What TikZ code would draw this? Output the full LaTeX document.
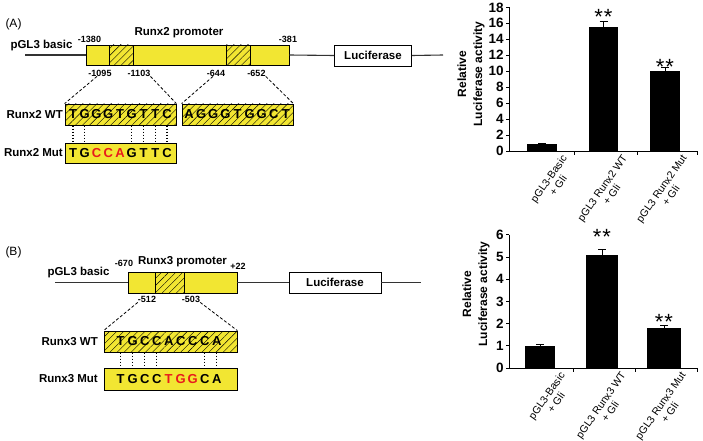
\documentclass[tikz,border=0pt]{standalone}
\usepackage{fontspec}
\setmainfont{Liberation Sans}
\usetikzlibrary{patterns.meta}
\definecolor{boxyellow}{RGB}{242,230,50}
\definecolor{mutred}{RGB}{232,28,28}
\tikzset{
  lab/.style={font=\fontsize{11.5}{13}\selectfont\bfseries, inner sep=0pt},
  posnum/.style={font=\fontsize{9}{10}\selectfont\bfseries, inner sep=0pt},
  letter/.style={font=\fontsize{13}{14}\selectfont\bfseries, inner sep=0pt},
  ybox/.style={draw, fill=boxyellow, line width=0.8pt, inner sep=0pt},
  hatch/.style={postaction={pattern={Lines[angle=45,distance=5pt,line width=0.4pt]}}},
  wbox/.style={draw, fill=white, line width=0.9pt, inner sep=0pt},
  dna/.style={line width=1.1pt, draw=black!80},
  zoomline/.style={dash pattern=on 3pt off 2pt, line width=0.8pt},
  pair/.style={dotted, line width=1.1pt},
  axisline/.style={line width=0.9pt},
  ticknum/.style={font=\fontsize{13.5}{14}\selectfont\bfseries, inner sep=2pt},
  ylab/.style={font=\fontsize{12}{16}\selectfont\bfseries, align=center, rotate=90, inner sep=0pt},
  xlab/.style={font=\fontsize{10.5}{11.5}\selectfont, align=center, rotate=55, anchor=north east, inner sep=0pt},
  stars/.style={font=\fontsize{22}{22}\selectfont, inner sep=0pt, anchor=base},
}
\begin{document}
\begin{tikzpicture}[x=1pt, y=-1pt]
\useasboundingbox (0,0) rectangle (703,441);

% (A) Runx2 construct
\node[font=\fontsize{12}{14}\selectfont, inner sep=0pt] (tagA) at (13.5,24) {(A)};
\node[lab] (vecA) at (41.5,46) {pGL3 basic};
\coordinate (startA) at (25,55);
\coordinate (endA) at (443,55);
\node[ybox, minimum width=203pt, minimum height=20pt] (promA) at (187.5,55) {};
\node[ybox, hatch, minimum width=24pt, minimum height=20pt] (hatchA1) at (121,55) {};
\node[ybox, hatch, minimum width=24pt, minimum height=20pt] (hatchA2) at (238,55) {};
\node[wbox, lab, minimum width=77pt, minimum height=21pt] (lucA) at (373,55.5) {Luciferase};
\draw[dna] (startA) -- (promA.west);
\draw[dna] (promA.east) -- (lucA.west);
\draw[dna] (lucA.east) -- (endA);
\node[lab] (nameA) at (179,33) {Runx2 promoter};
\node[posnum] (l1380) at (89.5,39) {-1380};
\node[posnum] (l381) at (288,39) {-381};
\node[posnum] (l1095) at (100,73) {-1095};
\node[posnum] (l1103) at (139,73) {-1103};
\node[posnum] (l644) at (216,73) {-644};
\node[posnum] (l652) at (256.5,73) {-652};

\node[ybox, hatch, minimum width=111pt, minimum height=21pt] (boxWtA) at (120.5,114.5) {};
\node[ybox, hatch, minimum width=111pt, minimum height=21pt] (boxSiteA) at (237.5,114.5) {};
\node[ybox, minimum width=111pt, minimum height=20pt] (boxMutA) at (120.5,153) {};
\node[lab, anchor=east] (rowWtA) at (63,114.5) {Runx2 WT};
\node[lab, anchor=east] (rowMutA) at (63,153) {Runx2 Mut};
\foreach \b [count=\i] in {T,G,G,G,T,G,T,T,C}
  \node[letter] (wtA\i) at ({61.25+11.75*\i},114.5) {\b};
\foreach \b [count=\i] in {A,G,G,G,T,G,G,C,T}
  \node[letter] (siteA\i) at ({177+12.1*\i},114.5) {\b};
\foreach \b/\c [count=\i] in {T/black,G/black,C/mutred,C/mutred,A/mutred,G/black,T/black,T/black,C/black}
  \node[letter, text=\c] (mutA\i) at ({61.25+11.75*\i},153) {\b};
\foreach \i in {1,2,6,7,8,9}
  \draw[pair] (wtA\i |- boxWtA.south) -- (mutA\i |- boxMutA.north);
\draw[zoomline] ([xshift=-3pt]l1095.south) -- (boxWtA.north west);
\draw[zoomline] (l1103.south east) -- (boxWtA.north east);
\draw[zoomline] ([xshift=-3pt]l644.south) -- (boxSiteA.north west);
\draw[zoomline] (l652.south east) -- (boxSiteA.north east);

% (B) Runx3 construct
\node[font=\fontsize{12}{14}\selectfont, inner sep=0pt] (tagB) at (13.5,252) {(B)};
\node[lab] (vecB) at (78.5,273) {pGL3 basic};
\coordinate (startB) at (55,282.5);
\coordinate (endB) at (421,282.5);
\node[ybox, minimum width=109pt, minimum height=21pt] (promB) at (182.5,282.5) {};
\node[ybox, hatch, minimum width=29pt, minimum height=21pt] (hatchB) at (169.5,282.5) {};
\node[wbox, lab, minimum width=92pt, minimum height=21pt] (lucB) at (335,282.5) {Luciferase};
\draw[dna] (startB) -- (promB.west);
\draw[dna] (promB.east) -- (lucB.west);
\draw[dna] (lucB.east) -- (endB);
\node[lab] (nameB) at (182.5,262) {Runx3 promoter};
\node[posnum] (l670) at (124,263) {-670};
\node[posnum] (l22) at (238,266) {+22};
\node[posnum] (l512) at (147,299) {-512};
\node[posnum] (l503) at (191,299) {-503};

\node[ybox, hatch, minimum width=133pt, minimum height=21pt] (boxWtB) at (170.5,341.5) {};
\node[ybox, minimum width=133pt, minimum height=22pt] (boxMutB) at (170.5,379) {};
\node[lab, anchor=east] (rowWtB) at (98,342) {Runx3 WT};
\node[lab, anchor=east] (rowMutB) at (98,379) {Runx3 Mut};
\foreach \b [count=\i] in {T,G,C,C,A,C,C,C,A}
  \node[letter] (wtB\i) at ({108.7+12*\i},341.5) {\b};
\foreach \b/\c [count=\i] in {T/black,G/black,C/black,C/black,T/mutred,G/mutred,G/mutred,C/black,A/black}
  \node[letter, text=\c] (mutB\i) at ({108.7+12*\i},379) {\b};
\foreach \i in {1,2,3,4,8,9}
  \draw[pair] (wtB\i |- boxWtB.south) -- (mutB\i |- boxMutB.north);
\draw[zoomline] (l512.south west) -- (boxWtB.north west);
\draw[zoomline] (l503.south east) -- (boxWtB.north east);

% chart A
\node[ylab] (yA) at (471,74) {Relative\\Luciferase activity};
\begin{scope}[shift={(509,151)}, y=7.98pt]
\fill (18,0) rectangle (48,0.85);
\fill (80,0) rectangle (109,15.5);
\fill (141,0) rectangle (171,10);
\draw[line width=0.7pt] (33,0.85) -- (33,0.95) ++(-4pt,0pt) -- ++(8pt,0pt);
\draw[line width=0.7pt] (94.5,15.5) -- (94.5,16.3) ++(-4pt,0pt) -- ++(8pt,0pt);
\draw[line width=0.7pt] (156,10) -- (156,10.5) ++(-4pt,0pt) -- ++(8pt,0pt);
\draw[axisline] (0,18) -- (0,0) -- (188,0);
\foreach \v in {0,2,...,18}
  \draw[axisline] (0,\v) -- ++(-3pt,0pt) node[ticknum, left] {\v};
\foreach \t in {65,128,188}
  \draw[axisline] (\t,0) -- ++(0pt,-4pt);
\node[stars] (sA2) at (94.5,15.85) {*\kern1pt*};
\node[stars] (sA3) at (156,9.59) {*\kern1pt*};
\node[xlab, yshift=-5pt] (xA1) at (48,0) {pGL3-Basic\\+ Gli};
\node[xlab, yshift=-5pt] (xA2) at (108.5,0) {pGL3 Runx2 WT\\+ Gli};
\node[xlab, yshift=-5pt] (xA3) at (168,0) {pGL3 Runx2 Mut\\+ Gli};
\end{scope}

% chart B
\node[ylab] (yB) at (476,294) {Relative\\Luciferase activity};
\begin{scope}[shift={(509,368)}, y=22.2pt]
\fill (16,0) rectangle (46,1.0);
\fill (77,0) rectangle (109,5.1);
\fill (138,0) rectangle (172,1.82);
\draw[line width=0.7pt] (31,1.0) -- (31,1.07) ++(-4pt,0pt) -- ++(8pt,0pt);
\draw[line width=0.7pt] (93,5.1) -- (93,5.35) ++(-4pt,0pt) -- ++(8pt,0pt);
\draw[line width=0.7pt] (155,1.82) -- (155,1.93) ++(-4pt,0pt) -- ++(8pt,0pt);
\draw[axisline] (0,6) -- (0,0) -- (188,0);
\foreach \v in {0,...,6}
  \draw[axisline] (0,\v) -- ++(-3pt,0pt) node[ticknum, left] {\v};
\foreach \t in {64,126,188}
  \draw[axisline] (\t,0) -- ++(0pt,-4pt);
\node[stars] (sB2) at (93,5.56) {*\kern1pt*};
\node[stars] (sB3) at (155,1.73) {*\kern1pt*};
\node[xlab, yshift=-5pt] (xB1) at (46,0) {pGL3-Basic\\+ Gli};
\node[xlab, yshift=-5pt] (xB2) at (107,0) {pGL3 Runx3 WT\\+ Gli};
\node[xlab, yshift=-5pt] (xB3) at (167,0) {pGL3 Runx3 Mut\\+ Gli};
\end{scope}
\end{tikzpicture}
\end{document}
